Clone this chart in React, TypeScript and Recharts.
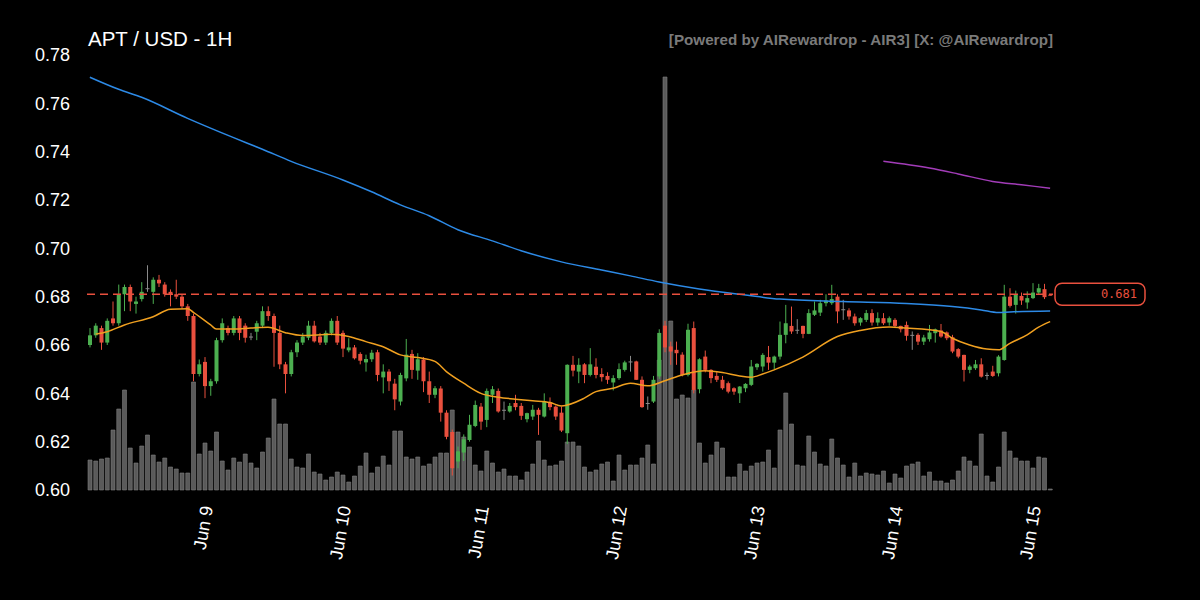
import { ComposedChart, Bar, Line, XAxis, YAxis, ReferenceLine } from "recharts"

// hourly candles, first one Jun 8 04:00 UTC
const START = Date.UTC(2025, 5, 8, 4)
const MONTHS = ["Jan", "Feb", "Mar", "Apr", "May", "Jun", "Jul", "Aug", "Sep", "Oct", "Nov", "Dec"]

const opens = [
  0.660, 0.664, 0.667, 0.661, 0.671, 0.669, 0.681, 0.684, 0.677, 0.679,
  0.6835, 0.682, 0.687, 0.685, 0.682, 0.681, 0.680, 0.676, 0.672, 0.648,
  0.653, 0.643, 0.645, 0.662, 0.667, 0.665, 0.671, 0.668, 0.6635, 0.6655,
  0.668, 0.674, 0.672, 0.665, 0.652, 0.648, 0.657, 0.661, 0.663, 0.668,
  0.6635, 0.661, 0.665, 0.670, 0.665, 0.6578, 0.659, 0.6563, 0.6528, 0.6541,
  0.657, 0.6466, 0.649, 0.644, 0.6366, 0.6462, 0.6563, 0.6494, 0.654, 0.645,
  0.6394, 0.642, 0.632, 0.624, 0.6118, 0.6155, 0.6207, 0.6265, 0.6345, 0.629,
  0.6394, 0.641, 0.6332, 0.6325, 0.636, 0.6348, 0.6293, 0.6304, 0.6332, 0.6304,
  0.6362, 0.6345, 0.632, 0.6235, 0.6518, 0.649, 0.652, 0.6476, 0.651, 0.648,
  0.6472, 0.6445, 0.6463, 0.6497, 0.6532, 0.6532, 0.6456, 0.636, 0.6366, 0.647,
  0.668, 0.6594, 0.658, 0.656, 0.6476, 0.667, 0.6417, 0.6552, 0.6497, 0.6472,
  0.6456, 0.6442, 0.6421, 0.640, 0.6421, 0.6435, 0.6508, 0.6511, 0.655, 0.6527,
  0.6552, 0.6642, 0.6679, 0.6663, 0.6679, 0.6646, 0.6725, 0.6734, 0.6773, 0.6773,
  0.680, 0.6748, 0.6743, 0.6718, 0.6693, 0.6704, 0.6732, 0.6693, 0.6711, 0.6693,
  0.6704, 0.6679, 0.6683, 0.6642, 0.6642, 0.6614, 0.6624, 0.6649, 0.666, 0.6652,
  0.6632, 0.6583, 0.6559, 0.6497, 0.6504, 0.652, 0.6476, 0.649, 0.6483, 0.6538,
  0.680, 0.6766, 0.6803, 0.6776, 0.6794, 0.6817, 0.6831, 0.6808,
]

const highs = [
  0.667, 0.669, 0.668, 0.671, 0.678, 0.685, 0.685, 0.685, 0.680, 0.686,
  0.693, 0.688, 0.689, 0.686, 0.683, 0.687, 0.681, 0.677, 0.673, 0.654,
  0.655, 0.646, 0.663, 0.671, 0.668, 0.672, 0.672, 0.669, 0.665, 0.670,
  0.676, 0.676, 0.673, 0.668, 0.653, 0.658, 0.662, 0.665, 0.670, 0.670,
  0.665, 0.666, 0.671, 0.672, 0.666, 0.6628, 0.660, 0.657, 0.656, 0.658,
  0.658, 0.652, 0.650, 0.646, 0.6485, 0.6625, 0.658, 0.6566, 0.655, 0.649,
  0.643, 0.643, 0.633, 0.625, 0.618, 0.623, 0.6311, 0.637, 0.636, 0.642,
  0.643, 0.642, 0.6366, 0.636, 0.6394, 0.636, 0.632, 0.6352, 0.634, 0.640,
  0.6383, 0.635, 0.6345, 0.652, 0.6555, 0.6545, 0.6525, 0.6587, 0.6545, 0.6504,
  0.6487, 0.6475, 0.6524, 0.6535, 0.6555, 0.6535, 0.647, 0.6387, 0.6472, 0.6665,
  0.670, 0.6614, 0.6614, 0.657, 0.6688, 0.6697, 0.6545, 0.6577, 0.650, 0.649,
  0.6472, 0.6449, 0.6425, 0.643, 0.6442, 0.6538, 0.6525, 0.6566, 0.6596, 0.6556,
  0.6697, 0.6766, 0.6759, 0.6707, 0.668, 0.6748, 0.678, 0.6787, 0.681, 0.6849,
  0.681, 0.6787, 0.6752, 0.673, 0.6715, 0.6745, 0.6748, 0.6735, 0.6732, 0.6718,
  0.6711, 0.668, 0.6697, 0.6656, 0.6649, 0.6642, 0.6683, 0.6668, 0.6687, 0.6656,
  0.6642, 0.6587, 0.656, 0.6518, 0.6538, 0.6545, 0.6486, 0.6514, 0.6558, 0.6849,
  0.6835, 0.6825, 0.6817, 0.6822, 0.6856, 0.6853, 0.6853, 0.6811,
]

const lows = [
  0.659, 0.663, 0.658, 0.660, 0.668, 0.668, 0.674, 0.674, 0.673, 0.678,
  0.682, 0.677, 0.684, 0.680, 0.676, 0.679, 0.675, 0.670, 0.645, 0.647,
  0.638, 0.639, 0.644, 0.661, 0.664, 0.664, 0.662, 0.661, 0.662, 0.662,
  0.667, 0.670, 0.651, 0.650, 0.640, 0.647, 0.655, 0.660, 0.662, 0.661,
  0.660, 0.660, 0.664, 0.660, 0.655, 0.657, 0.654, 0.652, 0.649, 0.653,
  0.645, 0.640, 0.641, 0.633, 0.635, 0.645, 0.646, 0.6456, 0.6405, 0.636,
  0.638, 0.6283, 0.621, 0.606, 0.609, 0.612, 0.620, 0.626, 0.6249, 0.626,
  0.636, 0.632, 0.629, 0.632, 0.633, 0.629, 0.628, 0.629, 0.6228, 0.630,
  0.633, 0.629, 0.624, 0.619, 0.647, 0.6442, 0.6442, 0.647, 0.6462, 0.6449,
  0.6439, 0.6412, 0.6456, 0.649, 0.649, 0.6455, 0.634, 0.6332, 0.636, 0.646,
  0.657, 0.6518, 0.6518, 0.647, 0.647, 0.640, 0.640, 0.6487, 0.6442, 0.6447,
  0.6415, 0.640, 0.6394, 0.636, 0.6405, 0.643, 0.6497, 0.649, 0.6497, 0.650,
  0.654, 0.6607, 0.6646, 0.6646, 0.6628, 0.6645, 0.672, 0.672, 0.676, 0.6766,
  0.669, 0.6704, 0.6705, 0.668, 0.668, 0.6695, 0.668, 0.668, 0.6683, 0.668,
  0.667, 0.6652, 0.6618, 0.658, 0.660, 0.660, 0.6614, 0.661, 0.663, 0.662,
  0.6566, 0.6545, 0.6449, 0.6483, 0.6497, 0.6465, 0.6456, 0.6468, 0.647, 0.6535,
  0.6755, 0.673, 0.6766, 0.675, 0.679, 0.681, 0.679, 0.6805,
]

const closes = [
  0.664, 0.668, 0.661, 0.670, 0.669, 0.681, 0.684, 0.678, 0.678, 0.682,
  0.6835, 0.687, 0.6855, 0.681, 0.681, 0.680, 0.676, 0.672, 0.648, 0.652,
  0.643, 0.645, 0.662, 0.669, 0.665, 0.671, 0.665, 0.663, 0.6635, 0.669,
  0.674, 0.672, 0.665, 0.652, 0.648, 0.657, 0.661, 0.6635, 0.668, 0.6615,
  0.661, 0.665, 0.670, 0.661, 0.6585, 0.659, 0.6545, 0.6535, 0.6542, 0.6568,
  0.6476, 0.649, 0.645, 0.6375, 0.6476, 0.656, 0.6497, 0.6541, 0.645, 0.6394,
  0.6421, 0.632, 0.622, 0.609, 0.616, 0.621, 0.627, 0.6352, 0.6283, 0.641,
  0.6417, 0.6325, 0.6332, 0.6348, 0.6343, 0.6307, 0.6318, 0.6332, 0.6311, 0.6366,
  0.6343, 0.6304, 0.6246, 0.6518, 0.6494, 0.6518, 0.6476, 0.652, 0.6476, 0.6467,
  0.6456, 0.6463, 0.650, 0.6528, 0.6532, 0.6456, 0.6343, 0.636, 0.6456, 0.665,
  0.659, 0.6573, 0.6566, 0.6476, 0.6663, 0.6414, 0.6541, 0.6497, 0.6463, 0.6456,
  0.6421, 0.6407, 0.6407, 0.6428, 0.6439, 0.6511, 0.6522, 0.6559, 0.6527, 0.6552,
  0.6642, 0.669, 0.6656, 0.6663, 0.6646, 0.6732, 0.6743, 0.6773, 0.6784, 0.679,
  0.6739, 0.6748, 0.6718, 0.669, 0.6711, 0.6732, 0.6693, 0.6711, 0.669, 0.6711,
  0.6679, 0.6665, 0.6638, 0.6642, 0.6614, 0.6631, 0.6652, 0.6665, 0.6635, 0.6628,
  0.6573, 0.6552, 0.6497, 0.6511, 0.652, 0.6469, 0.6476, 0.6472, 0.6552, 0.680,
  0.6762, 0.6811, 0.6784, 0.6794, 0.6817, 0.6835, 0.6798, 0.6806,
]

// volume, thousand APT
const volumes = [
  300, 290, 310, 320, 600, 810, 1000, 420, 270, 440,
  550, 350, 280, 320, 230, 210, 170, 170, 1080, 360,
  470, 390, 580, 290, 200, 320, 280, 360, 270, 220,
  380, 520, 910, 660, 660, 310, 230, 220, 360, 180,
  160, 100, 130, 180, 150, 80, 140, 240, 370, 170,
  230, 340, 250, 590, 590, 330, 310, 330, 240, 260,
  330, 370, 370, 800, 580, 530, 430, 250, 190, 390,
  270, 180, 210, 140, 140, 100, 180, 260, 490, 300,
  240, 250, 290, 480, 480, 440, 230, 180, 200, 260,
  280, 90, 350, 200, 250, 250, 320, 450, 260, 1300,
  4130, 1690, 910, 950, 920, 1000, 470, 270, 350, 480,
  420, 130, 130, 260, 190, 240, 270, 280, 400, 220,
  600, 970, 660, 250, 240, 540, 380, 260, 240, 510,
  320, 250, 130, 270, 140, 170, 160, 150, 190, 70,
  160, 120, 240, 260, 280, 140, 180, 90, 90, 70,
  100, 190, 330, 290, 240, 560, 140, 80, 230, 580,
  390, 320, 290, 290, 220, 330, 320, 10,
]

// moving averages: [candle index, value]
const blueMa = [
  [0, 0.7708], [5, 0.7658], [9, 0.7625], [17, 0.7538], [25, 0.7458], [30, 0.741], [35, 0.736],
  [44, 0.7283], [49, 0.7234], [54, 0.718], [59, 0.7135], [64, 0.7077], [70, 0.7031],
  [75, 0.699], [82, 0.6944], [89, 0.691], [94, 0.6886], [99, 0.6861], [106, 0.6832],
  [114, 0.6807], [120, 0.679], [131, 0.678], [142, 0.6772], [150, 0.6759], [155, 0.6745],
  [158, 0.6734], [160, 0.6737], [167, 0.6741],
]

const orangeMa = [
  [1, 0.6645], [3, 0.6655], [6, 0.6683], [11, 0.6717], [14, 0.6748], [17, 0.675], [18, 0.6735],
  [21, 0.6683], [22, 0.6666], [25, 0.6666], [28, 0.667], [31, 0.6673], [34, 0.6651],
  [37, 0.6639], [42, 0.6644], [45, 0.6635], [48, 0.6614], [51, 0.6593], [54, 0.6559],
  [57, 0.6548], [60, 0.6532], [62, 0.649], [65, 0.6442], [68, 0.640], [71, 0.6384],
  [74, 0.6376], [77, 0.6369], [80, 0.6362], [82, 0.6348], [86, 0.638], [88, 0.6407],
  [91, 0.6421], [94, 0.6442], [97, 0.6431], [100, 0.6452], [103, 0.6476], [107, 0.6493],
  [110, 0.6486], [113, 0.6472], [115, 0.6467], [117, 0.648], [119, 0.6497], [124, 0.655],
  [130, 0.6635], [134, 0.666], [139, 0.6674], [142, 0.667], [148, 0.6656], [150, 0.6628],
  [153, 0.660], [156, 0.6583], [158, 0.658], [160, 0.6607], [163, 0.6642], [165, 0.6674],
  [167, 0.6697],
]

const purpleMa = [
  [138, 0.736], [146, 0.7332], [151, 0.7308], [157, 0.7277], [162, 0.7263], [167, 0.7249],
]

const priceTicks = [0.6, 0.62, 0.64, 0.66, 0.68, 0.7, 0.72, 0.74, 0.76, 0.78]
const lastPrice = 0.681

const GREEN = "#4caf50"
const RED = "#e9503e"
const GREY = "#8a8a8a"
const FONT = "'Liberation Sans', Arial, sans-serif"

const toMap = (pairs: number[][]) => new Map(pairs.map(([i, v]) => [i, v]))
const blueMap = toMap(blueMa)
const orangeMap = toMap(orangeMa)
const purpleMap = toMap(purpleMa)

const data = opens.map((open, i) => ({
  time: START + i * 3600 * 1000,
  open,
  high: highs[i],
  low: lows[i],
  close: closes[i],
  vol: volumes[i],
  blue: blueMap.get(i) ?? null,
  orange: orangeMap.get(i) ?? null,
  purple: purpleMap.get(i) ?? null,
}))

const dayTicks = data.filter((d) => new Date(d.time).getUTCHours() === 0).map((d) => d.time)

function fmtDay(t: number) {
  const d = new Date(t)
  return `${MONTHS[d.getUTCMonth()]} ${d.getUTCDate()}`
}

function Candle(props: any) {
  const { x, y, width, height, payload } = props
  const { open, close, high, low } = payload
  const top = Math.min(y, y + height)
  const span = Math.abs(height)
  const toY = (v: number) => (high === low ? top : top + ((high - v) / (high - low)) * span)
  const color = close > open ? GREEN : close < open ? RED : GREY
  const cx = x + width / 2
  const bodyTop = toY(Math.max(open, close))
  const bodyBottom = toY(Math.min(open, close))
  return (
    <g>
      <line x1={cx} x2={cx} y1={top} y2={top + span} stroke={color} strokeWidth={1} />
      <rect x={x} y={bodyTop} width={width} height={Math.max(1, bodyBottom - bodyTop)} fill={color} />
    </g>
  )
}

function DayTick(props: any) {
  const { x, y, payload } = props
  return (
    <text
      x={x + 2}
      y={y}
      transform={`rotate(-80, ${x + 2}, ${y})`}
      textAnchor="end"
      dy="0.35em"
      fill="#ffffff"
      fontSize={18}
      fontFamily={FONT}
    >
      {fmtDay(payload.value)}
    </text>
  )
}

function PriceTag(props: any) {
  const { viewBox } = props
  if (!viewBox) return null
  const right = viewBox.x + viewBox.width
  const cy = viewBox.y
  return (
    <g>
      <rect x={right + 2} y={cy - 11} width={90} height={22} rx={7} fill="#000" stroke={RED} strokeWidth={1.5} />
      <text
        x={right + 84}
        y={cy}
        textAnchor="end"
        dominantBaseline="central"
        fill={RED}
        fontSize={12}
        fontFamily="'DejaVu Sans Mono', monospace"
      >
        {lastPrice.toFixed(3)}
      </text>
    </g>
  )
}

export default function App() {
  return (
    <div style={{ position: "fixed", left: 0, top: 0, width: 1200, height: 600, background: "#000" }}>
      <ComposedChart
        width={1200}
        height={600}
        data={data}
        margin={{ top: 55, right: 147, left: 27, bottom: 40 }}
        barSize={4}
        barGap={-4}
      >
        <XAxis
          dataKey="time"
          ticks={dayTicks}
          interval={0}
          axisLine={false}
          tickLine={false}
          tickSize={0}
          tickMargin={16}
          height={70}
          tick={(p: any) => <DayTick {...p} />}
        />
        <YAxis
          yAxisId="price"
          domain={[0.6, 0.78]}
          ticks={priceTicks}
          tickFormatter={(v: number) => v.toFixed(2)}
          axisLine={false}
          tickLine={false}
          tickSize={0}
          tickMargin={17}
          width={60}
          tick={{ fill: "#ffffff", fontSize: 18, fontFamily: FONT }}
        />
        <YAxis yAxisId="vol" hide domain={[0, 4350]} />
        <Bar yAxisId="vol" dataKey="vol" fill="#5a5a5a" stroke="#7c7c7c" strokeWidth={0.6} isAnimationActive={false} />
        <Line yAxisId="price" type="monotone" dataKey="blue" stroke="#2d8ae6" strokeWidth={1.5} dot={false} connectNulls isAnimationActive={false} />
        <Line yAxisId="price" type="monotone" dataKey="purple" stroke="#a23cb8" strokeWidth={1.5} dot={false} connectNulls isAnimationActive={false} />
        <Line yAxisId="price" type="monotone" dataKey="orange" stroke="#f0a020" strokeWidth={1.5} dot={false} connectNulls isAnimationActive={false} />
        <Bar
          yAxisId="price"
          dataKey={(d: any) => [d.low, d.high]}
          shape={(p: any) => <Candle {...p} />}
          isAnimationActive={false}
        />
        <ReferenceLine
          yAxisId="price"
          y={lastPrice}
          stroke={RED}
          strokeWidth={1.3}
          strokeDasharray="8 5"
          label={<PriceTag />}
        />
      </ComposedChart>
      <svg width={1200} height={600} style={{ position: "absolute", left: 0, top: 0, pointerEvents: "none" }}>
        <text x={88} y={46} fill="#ffffff" fontSize={20.5} fontFamily={FONT}>
          APT / USD - 1H
        </text>
        <text x={1053} y={45} textAnchor="end" fill="#7a7a7a" fontSize={15.2} fontWeight="bold" fontFamily={FONT}>
          [Powered by AIRewardrop - AIR3] [X: @AIRewardrop]
        </text>
      </svg>
    </div>
  )
}
